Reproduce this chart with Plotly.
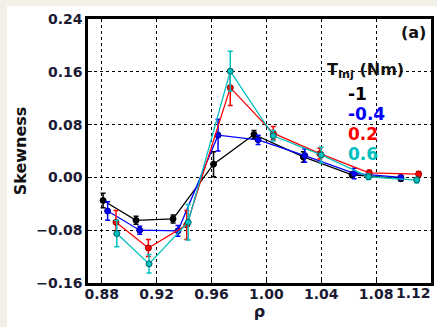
import plotly.graph_objects as go

# ---- data ----
rho_m1 = [0.881, 0.905, 0.932, 0.9615, 0.991, 1.027, 1.0625, 1.098]
skew_m1 = [-0.035, -0.065, -0.063, 0.020, 0.065, 0.031, 0.004, -0.002]
err_m1 = [0.011, 0.006, 0.006, 0.019, 0.006, 0.008, 0.004, 0.003]

rho_m04 = [0.8843, 0.9077, 0.9356, 0.9648, 0.994, 1.028, 1.064, 1.098]
skew_m04 = [-0.051, -0.080, -0.081, 0.064, 0.057, 0.033, 0.006, 0.000]
err_m04 = [0.014, 0.006, 0.008, 0.024, 0.007, 0.010, 0.008, 0.003]

rho_02 = [0.8904, 0.914, 0.942, 0.9737, 1.005, 1.039, 1.075, 1.111]
skew_02 = [-0.068, -0.107, -0.072, 0.136, 0.067, 0.036, 0.007, 0.005]
err_02 = [0.018, 0.013, 0.022, 0.027, 0.010, 0.008, 0.004, 0.004]

rho_06 = [0.891, 0.9145, 0.943, 0.9737, 1.005, 1.040, 1.0745, 1.1096]
skew_06 = [-0.085, -0.131, -0.068, 0.161, 0.063, 0.034, 0.001, -0.004]
err_06 = [0.020, 0.014, 0.027, 0.030, 0.008, 0.012, 0.004, 0.004]

labels = ["-1", "-0.4", "0.2", "0.6"]
colors = ["#000000", "#0000ff", "#ff0000", "#00bfbf"]
edge_colors = ["#000000", "#00008b", "#8b0000", "#006060"]

x_ticks = [0.88, 0.92, 0.96, 1.00, 1.04, 1.08, 1.12]
x_tick_labels = ["0.88", "0.92", "0.96", "1.00", "1.04", "1.08", "1.12"]
y_ticks = [-0.16, -0.08, 0.00, 0.08, 0.16, 0.24]
y_tick_labels = ["−0.16", "−0.08", "0.00", "0.08", "0.16", "0.24"]

series = [
    (rho_m1, skew_m1, err_m1),
    (rho_m04, skew_m04, err_m04),
    (rho_02, skew_02, err_02),
    (rho_06, skew_06, err_06),
]

fig = go.Figure()
for (xs, ys, es), c, ec, lab in zip(series, colors, edge_colors, labels):
    fig.add_trace(go.Scatter(
        x=xs, y=ys, mode="lines+markers", name=lab,
        line=dict(color=c, width=1.3),
        marker=dict(color=c, size=6, line=dict(color=ec, width=1)),
        error_y=dict(type="data", array=es, visible=True, color=c,
                     thickness=1.5, width=2.5),
        showlegend=False,
    ))

font_fam = "DejaVu Sans"
W, H = 437, 327
ml, mr, mt, mb = 88, 6, 19, 44
pw, ph = W - ml - mr, H - mt - mb

def px_x(px):
    return (px - ml) / pw

def px_y(py):
    return (H - mb - py) / ph

# beige border strips (top and left)
bg = "#f2efe6"
fig.add_shape(type="rect", xref="paper", yref="paper", layer="below",
              x0=px_x(0), x1=px_x(W), y0=px_y(6), y1=px_y(0),
              fillcolor=bg, line=dict(width=0))
fig.add_shape(type="rect", xref="paper", yref="paper", layer="below",
              x0=px_x(0), x1=px_x(7), y0=px_y(H), y1=px_y(0),
              fillcolor=bg, line=dict(width=0))

# legend-like text block
fig.add_annotation(xref="paper", yref="paper", x=px_x(325), y=px_y(70),
                   xanchor="left", yanchor="middle", showarrow=False,
                   text="<b>T<sub>Inj</sub> (Nm)</b>",
                   font=dict(family=font_fam, size=16, color="#111111"))
for i, (lab, c) in enumerate(zip(labels, colors)):
    fig.add_annotation(xref="paper", yref="paper", x=px_x(346), y=px_y(94 + 20 * i),
                       xanchor="left", yanchor="middle", showarrow=False,
                       text="<b>%s</b>" % lab,
                       font=dict(family=font_fam, size=17, color=c))

fig.add_annotation(xref="paper", yref="paper", x=px_x(428), y=px_y(33),
                   xanchor="right", yanchor="middle", showarrow=False,
                   text="<b>(a)</b>",
                   font=dict(family=font_fam, size=16, color="#111111"))

tick_font = dict(family=font_fam, size=14, color="#1a1a33")

# last x tick label is drawn shifted left (as in the reference) so it stays in view
fig.add_annotation(xref="paper", yref="paper", x=px_x(433), y=px_y(292.5),
                   xanchor="right", yanchor="middle", showarrow=False,
                   text="<b>%s</b>" % x_tick_labels[-1], font=tick_font)

axis_common = dict(
    showgrid=True, gridcolor="#000000", gridwidth=1, griddash="dot",
    showline=True, linecolor="#000000", linewidth=2.5, mirror=True,
    ticks="inside", ticklen=4, tickcolor="#000000",
    zeroline=False, automargin=False, ticklabeloverflow="allow",
    tickfont=tick_font,
)

fig.update_xaxes(range=[0.87, 1.12], tickvals=x_ticks,
                 ticktext=["<b>%s</b>" % t for t in x_tick_labels[:-1]] + [""],
                 ticklabelstandoff=-4,
                 title=dict(text="<b>ρ</b>", standoff=4,
                            font=dict(family=font_fam, size=16, color="#1a1a33")),
                 **axis_common)
fig.update_yaxes(range=[-0.16, 0.24], tickvals=y_ticks,
                 ticktext=["<b>%s</b>" % t for t in y_tick_labels],
                 title=dict(text="<b>Skewness</b>", standoff=6,
                            font=dict(family=font_fam, size=16, color="#111111")),
                 **axis_common)

fig.update_layout(
    width=W, height=H,
    margin=dict(l=ml, r=mr, t=mt, b=mb),
    paper_bgcolor="#ffffff", plot_bgcolor="#ffffff",
)

fig.write_html("out.html", config={"displayModeBar": False},
               post_script="document.body.style.margin='0';document.body.style.overflow='hidden';"
                           "document.body.style.background='#ffffff';"
                           "document.documentElement.style.background='#ffffff';")
